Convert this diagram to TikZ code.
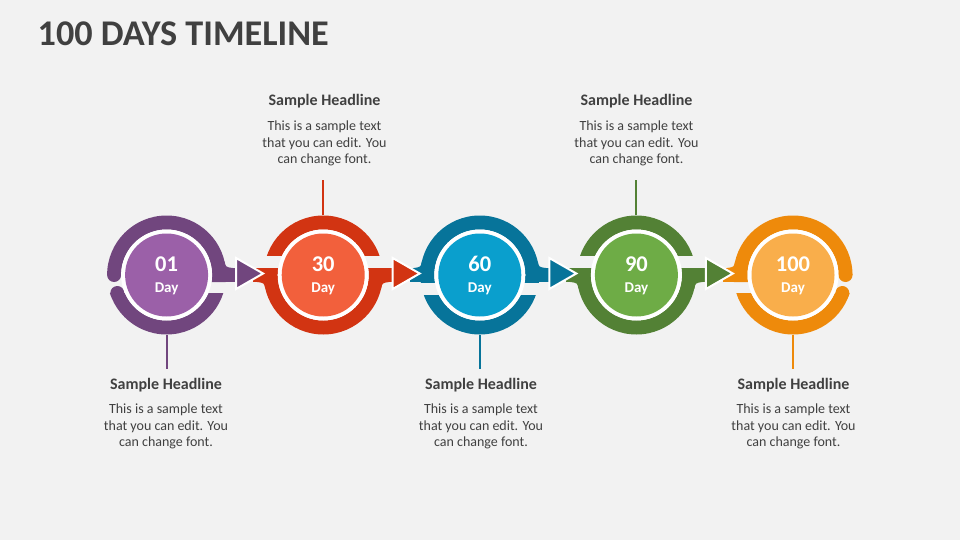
\documentclass[tikz,border=0pt]{standalone}
\usepackage{fontspec}
\setmainfont{Carlito}
\definecolor{bg}{HTML}{F2F2F2}
\definecolor{txt}{HTML}{404040}
\definecolor{pR}{HTML}{71467E}
\definecolor{pF}{HTML}{9B60A8}
\definecolor{rR}{HTML}{D23412}
\definecolor{rF}{HTML}{F2603C}
\definecolor{bR}{HTML}{07749A}
\definecolor{bF}{HTML}{0A9FCD}
\definecolor{gR}{HTML}{538135}
\definecolor{gF}{HTML}{6EAC46}
\definecolor{oR}{HTML}{EE8A0B}
\definecolor{oF}{HTML}{F9AE4B}
\begin{document}
\begin{tikzpicture}[x=1pt,y=-1pt,
  hl/.style={font=\fontsize{16}{19}\selectfont\bfseries, text=txt, anchor=base, inner sep=0},
  bd/.style={font=\fontsize{14}{17}\selectfont, text=txt, anchor=base, inner sep=0},
  num/.style={font=\fontsize{22.5}{26}\selectfont\bfseries, text=white, anchor=base, inner sep=0},
  dayt/.style={font=\fontsize{15}{18}\selectfont\bfseries, text=white, anchor=base, inner sep=0},
  ringnode/.style={circle, minimum size=119pt, inner sep=0},
  disc/.style={circle, minimum size=83pt, inner sep=0},
  wdisc/.style={circle, minimum size=91pt, inner sep=0, fill=white},
  tri/.style={draw=white, line width=2pt, line join=miter},
  conn/.style={line width=2pt}]
\fill[bg] (0,0) rectangle (960,540);
\useasboundingbox (0,0) rectangle (960,540);

% title
\node[font=\fontsize{36.2}{40}\selectfont\bfseries, text=txt, anchor=base west, inner sep=0] (title) at (37.5,45.7) {100 DAYS TIMELINE};

% ---------- purple ring ----------
\begin{scope}[shift={(166.6,275)}]
  \begin{scope}
    \clip (-62,-62) -- (62,-62) -- (62,7) -- (0,7) -- (0,0) -- (-62,0) -- cycle;
    \fill[pR, even odd rule] (0,0) circle (59.5) circle (45.5);
  \end{scope}
  \fill[pR] (-52.5,0) circle (7);
  \fill[pR] (50,-7) rectangle (72,7);
  \fill[pR] (57.8,-14) .. controls (59,-8) .. (66,-7) -- (57,-7) -- cycle;
  \begin{scope}
    \clip (-62,18) rectangle (62,62);
    \fill[pR, even odd rule] (0,0) circle (59.5) circle (45.5);
  \end{scope}
  \fill[pR] (-49.3,18) circle (7);
\end{scope}

% ---------- red ring ----------
\begin{scope}[shift={(323.2,275)}]
  \begin{scope}
    \clip (-62,-62) rectangle (62,-20);
    \fill[rR, even odd rule] (0,0) circle (59.5) circle (45.5);
  \end{scope}
  \begin{scope}
    \clip (-62,-7) rectangle (62,62);
    \fill[rR, even odd rule] (0,0) circle (59.5) circle (45.5);
  \end{scope}
  \fill[rR] (-70,-7) rectangle (-50,7);
  \fill[rR] (50,-7) rectangle (72,7);
  \fill[rR] (-57.8,14) .. controls (-59,8) .. (-66,7) -- (-57,7) -- cycle;
  \fill[rR] (57.8,14) .. controls (59,8) .. (66,7) -- (57,7) -- cycle;
\end{scope}

% ---------- blue ring ----------
\begin{scope}[shift={(479.8,275)}]
  \begin{scope}
    \clip (-62,-62) rectangle (62,7);
    \fill[bR, even odd rule] (0,0) circle (59.5) circle (45.5);
  \end{scope}
  \begin{scope}
    \clip (-62,20) rectangle (62,62);
    \fill[bR, even odd rule] (0,0) circle (59.5) circle (45.5);
  \end{scope}
  \fill[bR] (-70,-7) rectangle (-50,7);
  \fill[bR] (50,-7) rectangle (72,7);
  \fill[bR] (-57.8,-14) .. controls (-59,-8) .. (-66,-7) -- (-57,-7) -- cycle;
  \fill[bR] (57.8,-14) .. controls (59,-8) .. (66,-7) -- (57,-7) -- cycle;
\end{scope}

% ---------- green ring ----------
\begin{scope}[shift={(636.4,275)}]
  \begin{scope}
    \clip (-62,-62) rectangle (62,-20);
    \fill[gR, even odd rule] (0,0) circle (59.5) circle (45.5);
  \end{scope}
  \begin{scope}
    \clip (-62,-7) rectangle (62,62);
    \fill[gR, even odd rule] (0,0) circle (59.5) circle (45.5);
  \end{scope}
  \fill[gR] (-70,-7) rectangle (-50,7);
  \fill[gR] (50,-7) rectangle (72,7);
  \fill[gR] (-57.8,14) .. controls (-59,8) .. (-66,7) -- (-57,7) -- cycle;
  \fill[gR] (57.8,14) .. controls (59,8) .. (66,7) -- (57,7) -- cycle;
\end{scope}

% ---------- orange ring ----------
\begin{scope}[shift={(793,275)}]
  \begin{scope}
    \clip (-62,-62) -- (62,-62) -- (62,0) -- (0,0) -- (0,7) -- (-62,7) -- cycle;
    \fill[oR, even odd rule] (0,0) circle (59.5) circle (45.5);
  \end{scope}
  \fill[oR] (52.5,0) circle (7);
  \fill[oR] (-70,-7) rectangle (-50,7);
  \fill[oR] (-57.8,-14) .. controls (-59,-8) .. (-66,-7) -- (-57,-7) -- cycle;
  \begin{scope}
    \clip (-62,18) rectangle (62,62);
    \fill[oR, even odd rule] (0,0) circle (59.5) circle (45.5);
  \end{scope}
  \fill[oR] (49.3,18) circle (7);
\end{scope}

% ---------- arrows ----------
\draw[tri, fill=pR] (236.1,258) -- (236.1,289) -- (263.1,273.5) -- cycle;
\draw[tri, fill=rR] (392.7,258) -- (392.7,289) -- (419.7,273.5) -- cycle;
\draw[tri, fill=bR] (549.3,258) -- (549.3,289) -- (576.3,273.5) -- cycle;
\draw[tri, fill=gR] (705.9,258) -- (705.9,289) -- (732.9,273.5) -- cycle;

% ---------- discs ----------
\node[ringnode] (r1) at (166.6,275) {};
\node[ringnode] (r2) at (323.2,275) {};
\node[ringnode] (r3) at (479.8,275) {};
\node[ringnode] (r4) at (636.4,275) {};
\node[ringnode] (r5) at (793,275) {};
\node[wdisc] (w1) at (166.6,275) {};
\node[wdisc] (w2) at (323.2,275) {};
\node[wdisc] (w3) at (479.8,275) {};
\node[wdisc] (w4) at (636.4,275) {};
\node[wdisc] (w5) at (793,275) {};
\node[disc, fill=pF] (c1) at (166.6,275) {};
\node[disc, fill=rF] (c2) at (323.2,275) {};
\node[disc, fill=bF] (c3) at (479.8,275) {};
\node[disc, fill=gF] (c4) at (636.4,275) {};
\node[disc, fill=oF] (c5) at (793,275) {};

\node[num] (n1) at (166.6,271.7) {01};
\node[num] (n2) at (323.2,271.7) {30};
\node[num] (n3) at (479.8,271.7) {60};
\node[num] (n4) at (636.4,271.7) {90};
\node[num] (n5) at (793,271.7) {100};
\node[dayt] (d1) at (166.6,292.7) {Day};
\node[dayt] (d2) at (323.2,292.7) {Day};
\node[dayt] (d3) at (479.8,292.7) {Day};
\node[dayt] (d4) at (636.4,292.7) {Day};
\node[dayt] (d5) at (793,292.7) {Day};

% ---------- connectors ----------
\coordinate (t1) at (166.6,369);
\coordinate (t2) at (323.2,180);
\coordinate (t3) at (479.8,369);
\coordinate (t4) at (636.4,180);
\coordinate (t5) at (793,369);
\draw[conn, pR] (r1.south) -- (t1);
\draw[conn, rR] (r2.north) -- (t2);
\draw[conn, bR] (r3.south) -- (t3);
\draw[conn, gR] (r4.north) -- (t4);
\draw[conn, oR] (r5.south) -- (t5);

% ---------- texts top ----------
\node[hl] (h2) at (324.5,105.7) {Sample Headline};
\node[bd] (b2a) at (324.5,130.7) {This is a sample text};
\node[bd] (b2b) at (324.5,147.4) {that you can edit. You};
\node[bd] (b2c) at (324.5,164) {can change font.};
\node[hl] (h4) at (636.5,105.7) {Sample Headline};
\node[bd] (b4a) at (636.5,130.7) {This is a sample text};
\node[bd] (b4b) at (636.5,147.4) {that you can edit. You};
\node[bd] (b4c) at (636.5,164) {can change font.};
% ---------- texts bottom ----------
\node[hl] (h1) at (166,389.3) {Sample Headline};
\node[bd] (b1a) at (166,413.3) {This is a sample text};
\node[bd] (b1b) at (166,430) {that you can edit. You};
\node[bd] (b1c) at (166,446.6) {can change font.};
\node[hl] (h3) at (481,389.3) {Sample Headline};
\node[bd] (b3a) at (481,413.3) {This is a sample text};
\node[bd] (b3b) at (481,430) {that you can edit. You};
\node[bd] (b3c) at (481,446.6) {can change font.};
\node[hl] (h5) at (793.5,389.3) {Sample Headline};
\node[bd] (b5a) at (793.5,413.3) {This is a sample text};
\node[bd] (b5b) at (793.5,430) {that you can edit. You};
\node[bd] (b5c) at (793.5,446.6) {can change font.};
\end{tikzpicture}
\end{document}
